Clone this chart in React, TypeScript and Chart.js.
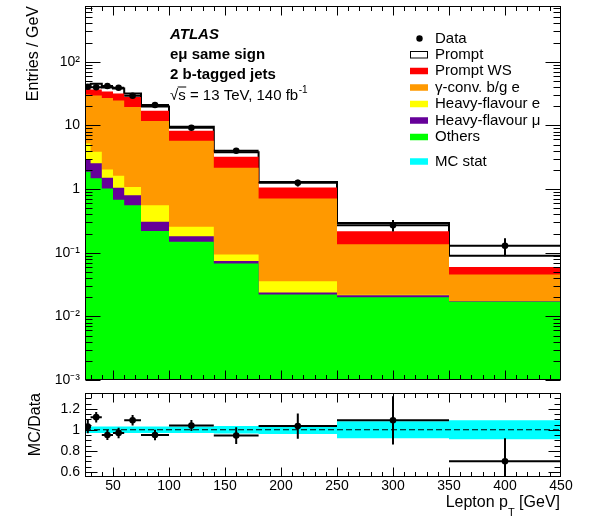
import React, { useEffect, useRef } from "react";
import { Chart, registerables } from "chart.js";

Chart.register(...registerables);

const FONT = '"Liberation Sans", Arial, Helvetica, sans-serif';

// Lepton pT binning [GeV]
const binEdges = [25, 30, 40, 50, 60, 75, 100, 140, 180, 250, 350, 450];

// Observed entries per GeV with statistical uncertainties
const dataValues = [40.4, 39.6, 41.5, 39.0, 29.2, 20.9, 9.17, 3.99, 1.25, 0.27, 0.128];
const dataErrors = [2.5, 1.8, 2.0, 1.9, 1.4, 1.0, 0.46, 0.34, 0.15, 0.055, 0.04];

// Stacked predictions per GeV, listed from the bottom of the stack upwards
const others = [1.86, 1.47, 1.02, 0.68, 0.558, 0.22, 0.148, 0.0677, 0.022, 0.02, 0.0169];
const heavyFlavourMu = [0.99, 1.06, 0.48, 0.37, 0.242, 0.085, 0.034, 0.0066, 0.0017, 0.0015, 0.0003];
const heavyFlavourE = [2.35, 1.32, 0.53, 0.57, 0.28, 0.253, 0.073, 0.0194, 0.0119, 0.0003, 0.0002];
const gammaConv = [25.3, 25.5, 24.9, 22.9, 18.3, 11.2, 5.48, 2.06, 0.675, 0.114, 0.028];
const promptWS = [6.7, 7.2, 7.1, 7.1, 8.5, 5.2, 2.49, 1.06, 0.349, 0.082, 0.0144];
const prompt = [4.4, 8.6, 5.4, 6.2, 3.9, 2.9, 1.28, 0.56, 0.23, 0.076, 0.03];

// Lower panel: MC/Data with data uncertainty, and relative MC statistical uncertainty
const ratioValues = [1.03, 1.12, 0.95, 0.97, 1.09, 0.95, 1.04, 0.945, 1.035, 1.09, 0.7];
const ratioErrors = [0.064, 0.05, 0.048, 0.05, 0.05, 0.05, 0.052, 0.08, 0.12, 0.23, 0.22];
const mcStatErrors = [0.03, 0.03, 0.03, 0.03, 0.03, 0.03, 0.03, 0.035, 0.04, 0.08, 0.09];

// Axis tick labels
const logTickValues = [1e-3, 1e-2, 1e-1, 1, 10, 100];
const logTickLabels = ["10\u207B\u00B3", "10\u207B\u00B2", "10\u207B\u00B9", "1", "10", "10\u00B2"];
const ratioTickValues = [0.6, 0.8, 1.0, 1.2];
const ratioTickLabels = ["0.6", "0.8", "1", "1.2"];
const xTickValues = [50, 100, 150, 200, 250, 300, 350, 400, 450];
const xTickLabels = ["50", "100", "150", "200", "250", "300", "350", "400", "450"];

const stackLabels = ["Others", "Heavy-flavour \u03BC", "Heavy-flavour e", "\u03B3-conv. b/g e", "Prompt WS", "Prompt"];
const stackColors = ["#00ff00", "#660099", "#ffff00", "#ff9900", "#ff0000", "#ffffff"];
const stackSeries = [others, heavyFlavourMu, heavyFlavourE, gammaConv, promptWS, prompt];
const mcStatColor = "#00ffff";

const binCentres = binEdges.slice(0, -1).map((e, i) => (e + binEdges[i + 1]) / 2);
const stepPoints = (vals: number[]) =>
  binEdges.map((x, i) => ({ x, y: vals[Math.min(i, vals.length - 1)] }));

const cumulative: number[][] = [];
stackSeries.forEach((s, k) => {
  cumulative.push(s.map((v, i) => v + (k ? cumulative[k - 1][i] : 0)));
});

type TickSpec = {
  xMajor: number[];
  xMinor: number[];
  yMajor: number[];
  yMinor: number[];
  xLen: [number, number];
  yLen: [number, number];
};

// Frame around the plot area with inward-pointing ticks on all four sides
const framePlugin = (spec: TickSpec) => ({
  id: "frameTicks",
  afterDraw(chart: any) {
    const { ctx, chartArea, scales } = chart;
    const l = Math.round(chartArea.left) + 0.5;
    const r = Math.round(chartArea.right) - 0.5;
    const t = Math.round(chartArea.top) + 0.5;
    const b = Math.round(chartArea.bottom) - 0.5;
    ctx.save();
    ctx.strokeStyle = "#000";
    ctx.lineWidth = 1;
    ctx.beginPath();
    const xs = (vals: number[], len: number) => {
      vals.forEach((v) => {
        const px = Math.round(scales.x.getPixelForValue(v)) + 0.5;
        if (px <= l || px >= r) return;
        ctx.moveTo(px, b);
        ctx.lineTo(px, b - len);
        ctx.moveTo(px, t);
        ctx.lineTo(px, t + len);
      });
    };
    const ys = (vals: number[], len: number) => {
      vals.forEach((v) => {
        const py = Math.round(scales.y.getPixelForValue(v)) + 0.5;
        if (py < t || py > b + 1) return;
        ctx.moveTo(l, py);
        ctx.lineTo(l + len, py);
        ctx.moveTo(r, py);
        ctx.lineTo(r - len, py);
      });
    };
    xs(spec.xMajor, spec.xLen[0]);
    xs(spec.xMinor, spec.xLen[1]);
    ys(spec.yMajor, spec.yLen[0]);
    ys(spec.yMinor, spec.yLen[1]);
    ctx.stroke();
    ctx.strokeRect(l, t, r - l, b - t);
    ctx.restore();
  },
});

// Horizontal (bin width) and vertical (uncertainty) bars for measured points
const errorBarPlugin = (values: number[], errors: number[]) => ({
  id: "errorBars",
  afterDatasetsDraw(chart: any) {
    const { ctx, chartArea, scales } = chart;
    ctx.save();
    ctx.beginPath();
    ctx.rect(chartArea.left, chartArea.top, chartArea.right - chartArea.left, chartArea.bottom - chartArea.top);
    ctx.clip();
    ctx.strokeStyle = "#000";
    ctx.lineWidth = 2;
    ctx.beginPath();
    values.forEach((v, i) => {
      const x0 = scales.x.getPixelForValue(binEdges[i]);
      const x1 = scales.x.getPixelForValue(binEdges[i + 1]);
      const xc = scales.x.getPixelForValue(binCentres[i]);
      const y = scales.y.getPixelForValue(v);
      const lo = Math.max(v - errors[i], scales.y.min);
      ctx.moveTo(x0, y);
      ctx.lineTo(x1, y);
      ctx.moveTo(xc, scales.y.getPixelForValue(lo));
      ctx.lineTo(xc, scales.y.getPixelForValue(v + errors[i]));
    });
    ctx.stroke();
    ctx.restore();
  },
});

const legendRows = [
  { label: "Data", kind: "marker", color: "#000" },
  { label: stackLabels[5], kind: "outline", color: stackColors[5] },
  { label: stackLabels[4], kind: "box", color: stackColors[4] },
  { label: stackLabels[3], kind: "box", color: stackColors[3] },
  { label: stackLabels[2], kind: "box", color: stackColors[2] },
  { label: stackLabels[1], kind: "box", color: stackColors[1] },
  { label: stackLabels[0], kind: "box", color: stackColors[0] },
  { label: "MC stat", kind: "box", color: mcStatColor },
];
const legendRowY = [38.5, 54.5, 71, 87.5, 104, 120.5, 137, 161.5];

const topTextPlugin = {
  id: "topText",
  afterDraw(chart: any) {
    const ctx = chart.ctx;
    ctx.save();
    ctx.fillStyle = "#000";
    ctx.textAlign = "left";
    ctx.textBaseline = "alphabetic";
    const x0 = 170;
    ctx.font = `italic bold 15px ${FONT}`;
    ctx.fillText("ATLAS", x0, 38.5);
    ctx.font = `bold 15px ${FONT}`;
    ctx.fillText("e\u03BC same sign", x0, 58.5);
    ctx.fillText("2 b-tagged jets", x0, 79);

    ctx.font = `15px ${FONT}`;
    const yb = 99.5;
    ctx.fillText("\u221A", x0, yb);
    const wRoot = ctx.measureText("\u221A").width;
    ctx.fillText("s", x0 + wRoot, yb);
    const wS = ctx.measureText("s").width;
    ctx.strokeStyle = "#000";
    ctx.lineWidth = 1;
    ctx.beginPath();
    ctx.moveTo(x0 + wRoot - 0.5, yb - 12.5);
    ctx.lineTo(x0 + wRoot + wS + 0.5, yb - 12.5);
    ctx.stroke();
    const rest = " = 13 TeV, 140 fb";
    ctx.fillText(rest, x0 + wRoot + wS, yb);
    const wRest = ctx.measureText(rest).width;
    ctx.font = `10px ${FONT}`;
    ctx.fillText("-1", x0 + wRoot + wS + wRest + 0.5, yb - 7);

    // legend
    ctx.font = `15px ${FONT}`;
    ctx.textBaseline = "middle";
    legendRows.forEach((row, i) => {
      const y = legendRowY[i];
      if (row.kind === "marker") {
        ctx.fillStyle = row.color;
        ctx.beginPath();
        ctx.arc(419.5, y, 3.2, 0, Math.PI * 2);
        ctx.fill();
      } else {
        ctx.fillStyle = row.color;
        ctx.fillRect(410, y - 3.25, 18, 6.5);
        if (row.kind === "outline") {
          ctx.strokeStyle = "#000";
          ctx.lineWidth = 1;
          ctx.strokeRect(410.5, y - 3, 17, 6.5);
        }
      }
      ctx.fillStyle = "#000";
      ctx.fillText(row.label, 435, y);
    });
    ctx.restore();
  },
};

const ratioTextPlugin = {
  id: "ratioText",
  afterDraw(chart: any) {
    const ctx = chart.ctx;
    ctx.save();
    ctx.fillStyle = "#000";
    ctx.textBaseline = "alphabetic";
    ctx.textAlign = "left";
    const big = `16px ${FONT}`;
    const small = `11px ${FONT}`;
    ctx.font = big;
    const a = "Lepton p";
    const c = " [GeV]";
    const wa = ctx.measureText(a).width;
    const wc = ctx.measureText(c).width;
    ctx.font = small;
    const wb = ctx.measureText("T").width;
    const right = 560;
    const start = right - (wa + wb + wc);
    const base = 507 - 385;
    ctx.font = big;
    ctx.fillText(a, start, base);
    ctx.fillText(c, start + wa + wb, base);
    ctx.font = small;
    ctx.fillText("T", start + wa, base + 9);
    ctx.restore();
  },
};

const xMinorTicks: number[] = [];
for (let v = 30; v < 450; v += 10) if (v % 50 !== 0) xMinorTicks.push(v);
const logMinorTicks: number[] = [];
for (let e = -3; e <= 2; e++) for (let m = 2; m <= 9; m++) if (m * 10 ** e < 750) logMinorTicks.push(m * 10 ** e);
const ratioMinorTicks = [0.65, 0.7, 0.75, 0.85, 0.9, 0.95, 1.05, 1.1, 1.15, 1.25, 1.3];

const fixWidth = (w: number) => (s: any) => {
  s.width = w;
  s.paddingTop = 0;
  s.paddingBottom = 0;
};

export default function App() {
  const topRef = useRef<HTMLCanvasElement>(null);
  const ratioRef = useRef<HTMLCanvasElement>(null);

  useEffect(() => {
    const stackDatasets = cumulative.map((vals, k) => ({
      label: stackLabels[k],
      data: stepPoints(vals),
      stepped: true,
      fill: "start",
      backgroundColor: stackColors[k],
      borderColor: k === 5 ? "#000" : "rgba(0,0,0,0)",
      borderWidth: k === 5 ? 2 : 0,
      pointRadius: 0,
      order: k + 1,
    }));

    const top = new Chart(topRef.current as HTMLCanvasElement, {
      type: "line",
      data: {
        datasets: [
          {
            label: "Data",
            data: binCentres.map((x, i) => ({ x, y: dataValues[i] })),
            showLine: false,
            pointRadius: 3.3,
            pointHoverRadius: 3.3,
            pointBackgroundColor: "#000",
            pointBorderColor: "#000",
            pointBorderWidth: 0,
            order: 0,
          },
          ...stackDatasets,
        ] as any,
      },
      options: {
        animation: false,
        responsive: false,
        devicePixelRatio: 1,
        events: [],
        layout: { padding: { top: 6, right: 29, bottom: 10, left: 0 } },
        plugins: { legend: { display: false }, tooltip: { enabled: false } },
        scales: {
          x: { type: "linear", min: 25, max: 450, display: false },
          y: {
            type: "logarithmic",
            min: 1e-3,
            max: 750,
            grid: { display: false, drawTicks: false },
            border: { display: false },
            afterBuildTicks: (s: any) => {
              s.ticks = logTickValues.map((value) => ({ value }));
            },
            afterFit: fixWidth(85),
            ticks: {
              autoSkip: false,
              padding: 5,
              color: "#000",
              font: { family: FONT, size: 14 },
              callback: (_v: any, i: number) => logTickLabels[i],
            },
            title: {
              display: true,
              text: "Entries / GeV",
              align: "end",
              color: "#000",
              font: { family: FONT, size: 16 },
              padding: { top: 24, bottom: 0 },
            },
          },
        },
      } as any,
      plugins: [
        framePlugin({
          xMajor: xTickValues,
          xMinor: xMinorTicks,
          yMajor: logTickValues,
          yMinor: logMinorTicks,
          xLen: [9, 4.5],
          yLen: [15, 7],
        }),
        errorBarPlugin(dataValues, dataErrors),
        topTextPlugin,
      ],
    });

    const ratio = new Chart(ratioRef.current as HTMLCanvasElement, {
      type: "line",
      data: {
        datasets: [
          {
            label: "MC/Data",
            data: binCentres.map((x, i) => ({ x, y: ratioValues[i] })),
            showLine: false,
            pointRadius: 3.3,
            pointHoverRadius: 3.3,
            pointBackgroundColor: "#000",
            pointBorderColor: "#000",
            pointBorderWidth: 0,
            order: 0,
          },
          {
            label: "unity",
            data: [
              { x: 25, y: 1 },
              { x: 450, y: 1 },
            ],
            borderColor: "#000",
            borderWidth: 1,
            borderDash: [6, 3],
            pointRadius: 0,
            order: 1,
          },
          {
            label: "MC stat",
            data: stepPoints(mcStatErrors.map((e) => 1 + e)),
            stepped: true,
            fill: "+1",
            backgroundColor: mcStatColor,
            borderColor: "rgba(0,0,0,0)",
            borderWidth: 0,
            pointRadius: 0,
            order: 2,
          },
          {
            label: "MC stat (low)",
            data: stepPoints(mcStatErrors.map((e) => 1 - e)),
            stepped: true,
            fill: false,
            borderColor: "rgba(0,0,0,0)",
            borderWidth: 0,
            pointRadius: 0,
            order: 3,
          },
        ] as any,
      },
      options: {
        animation: false,
        responsive: false,
        devicePixelRatio: 1,
        events: [],
        layout: { padding: { top: 8, right: 29, bottom: 0, left: 0 } },
        plugins: { legend: { display: false }, tooltip: { enabled: false } },
        scales: {
          x: {
            type: "linear",
            min: 25,
            max: 450,
            grid: { display: false, drawTicks: false },
            border: { display: false },
            afterBuildTicks: (s: any) => {
              s.ticks = xTickValues.map((value) => ({ value }));
            },
            afterFit: (s: any) => {
              s.height = 39;
              s.paddingLeft = 0;
              s.paddingRight = 0;
            },
            ticks: {
              autoSkip: false,
              maxRotation: 0,
              minRotation: 0,
              padding: 1,
              color: "#000",
              font: { family: FONT, size: 14 },
              callback: (_v: any, i: number) => xTickLabels[i],
            },
          },
          y: {
            type: "linear",
            min: 0.55,
            max: 1.35,
            grid: { display: false, drawTicks: false },
            border: { display: false },
            afterBuildTicks: (s: any) => {
              s.ticks = ratioTickValues.map((value) => ({ value }));
            },
            afterFit: fixWidth(85),
            ticks: {
              autoSkip: false,
              padding: 5,
              color: "#000",
              font: { family: FONT, size: 14 },
              callback: (_v: any, i: number) => ratioTickLabels[i],
            },
            title: {
              display: true,
              text: "MC/Data",
              align: "end",
              color: "#000",
              font: { family: FONT, size: 16 },
              padding: { top: 26, bottom: 0 },
            },
          },
        },
      } as any,
      plugins: [
        framePlugin({
          xMajor: xTickValues,
          xMinor: xMinorTicks,
          yMajor: ratioTickValues,
          yMinor: ratioMinorTicks,
          xLen: [9, 4.5],
          yLen: [12, 6],
        }),
        errorBarPlugin(ratioValues, ratioErrors),
        ratioTextPlugin,
      ],
    });

    return () => {
      top.destroy();
      ratio.destroy();
    };
  }, []);

  return (
    <div style={{ position: "absolute", left: 0, top: 0, width: 590, height: 516, background: "#fff" }}>
      <canvas ref={topRef} width={590} height={390} style={{ position: "absolute", left: 0, top: 0 }} />
      <canvas ref={ratioRef} width={590} height={131} style={{ position: "absolute", left: 0, top: 385 }} />
    </div>
  );
}
